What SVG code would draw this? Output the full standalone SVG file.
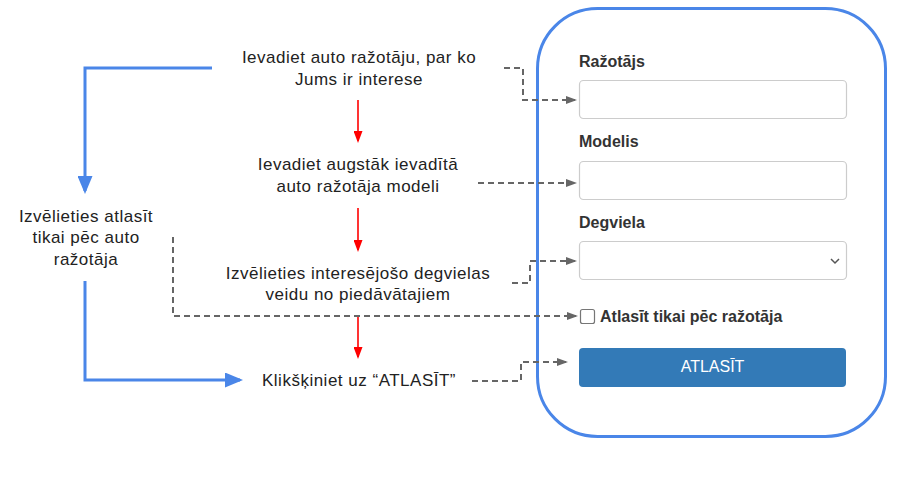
<svg xmlns="http://www.w3.org/2000/svg" width="914" height="501" viewBox="0 0 914 501">
<style>
.t{font-family:"Liberation Sans",Arial,sans-serif;font-size:17px;fill:#222;letter-spacing:0.5px;text-anchor:middle}
.lbl{font-family:"Liberation Sans",Arial,sans-serif;font-size:16px;font-weight:bold;fill:#333}
.inp{fill:#fff;stroke:#ccc;stroke-width:1.2}
.red{fill:none;stroke:#ff0000;stroke-width:1.6}
.blue{fill:none;stroke:#4a86e8;stroke-width:3}
.gray{fill:none;stroke:#666;stroke-width:2;stroke-dasharray:6 4}
</style>
<defs>
<marker id="mr" markerUnits="userSpaceOnUse" markerWidth="12" markerHeight="9" refX="10" refY="4.5" orient="auto"><path d="M0,0 L12,4.5 L0,9 z" fill="#ff0000"/></marker>
<marker id="mb" markerUnits="userSpaceOnUse" markerWidth="18" markerHeight="15" refX="15" refY="7.5" orient="auto"><path d="M0,0 L18,7.5 L0,15 z" fill="#4a86e8"/></marker>
<marker id="mg" markerUnits="userSpaceOnUse" markerWidth="11" markerHeight="8" refX="9" refY="4" orient="auto"><path d="M0,0 L11,4 L0,8 z" fill="#666"/></marker>
</defs>
<rect width="914" height="501" fill="#fff"/>
<g id="form-frame"><rect x="537.5" y="8.5" width="348" height="428" rx="60" ry="60" fill="#fff" stroke="#4a86e8" stroke-width="3"/></g>
<g id="connectors">
<polyline class="blue" points="212,68 85,68 85,191" marker-end="url(#mb)"/>
<polyline class="blue" points="85,281 85,380 240,380" marker-end="url(#mb)"/>
<line class="red" x1="358" y1="100" x2="358" y2="141" marker-end="url(#mr)"/>
<line class="red" x1="358" y1="208" x2="358" y2="250" marker-end="url(#mr)"/>
<line class="red" x1="358" y1="315" x2="358" y2="357" marker-end="url(#mr)"/>
<polyline class="gray" points="504,68 523,68 523,100 575,100" marker-end="url(#mg)"/>
<polyline class="gray" points="478,183 575,183" marker-end="url(#mg)"/>
<polyline class="gray" points="512,283 530,283 530,261 575,261" marker-end="url(#mg)"/>
<polyline class="gray" points="173,237 173,316 576,316" marker-end="url(#mg)"/>
<polyline class="gray" points="472,381 521,381 521,362 566,362" marker-end="url(#mg)"/>
</g>
<g id="step1"><text class="t" x="359" y="63">Ievadiet auto ražotāju, par ko</text><text class="t" x="359" y="85">Jums ir interese</text></g>
<g id="step2"><text class="t" x="358" y="170">Ievadiet augstāk ievadītā</text><text class="t" x="358" y="192">auto ražotāja modeli</text></g>
<g id="step3"><text class="t" x="358" y="279">Izvēlieties interesējošo degvielas</text><text class="t" x="358" y="300">veidu no piedāvātajiem</text></g>
<g id="step4"><text class="t" x="359" y="386">Klikšķiniet uz “ATLASĪT”</text></g>
<g id="alt"><text class="t" x="86" y="222">Izvēlieties atlasīt</text><text class="t" x="86" y="243">tikai pēc auto</text><text class="t" x="86" y="265">ražotāja</text></g>
<g id="field-razotajs"><text class="lbl" x="579" y="67">Ražotājs</text><rect class="inp" x="579.5" y="80.5" width="267" height="38" rx="4"/></g>
<g id="field-modelis"><text class="lbl" x="579" y="147">Modelis</text><rect class="inp" x="579.5" y="161.5" width="267" height="38" rx="4"/></g>
<g id="field-degviela"><text class="lbl" x="579" y="228">Degviela</text><rect class="inp" x="579.5" y="241.5" width="267" height="38" rx="4"/><path d="M831,259 L835,263 L839,259" fill="none" stroke="#555" stroke-width="1.5"/></g>
<g id="checkbox"><rect x="580.5" y="309.5" width="14" height="14" rx="2" fill="#fff" stroke="#767676" stroke-width="1.2"/><text class="lbl" x="600" y="322">Atlasīt tikai pēc ražotāja</text></g>
<g id="button"><rect x="579" y="348" width="267" height="39" rx="4" fill="#337ab7"/><text x="712.5" y="372" text-anchor="middle" font-family="Liberation Sans, Arial, sans-serif" font-size="16" fill="#fff">ATLASĪT</text></g>
</svg>
